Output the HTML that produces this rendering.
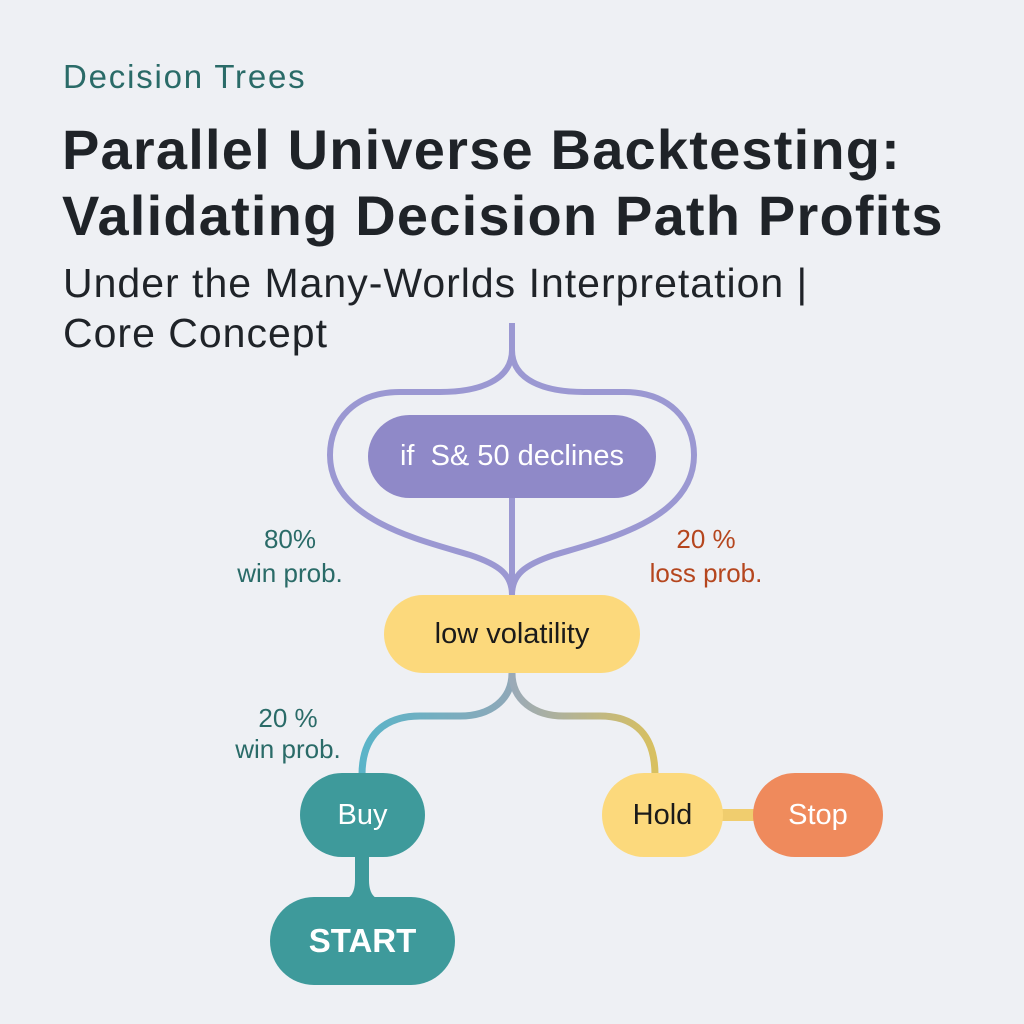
<!DOCTYPE html>
<html><head><style>
body{margin:0;width:1024px;height:1024px;background:#eef0f4;font-family:"Liberation Sans",sans-serif;position:relative;overflow:hidden}
.t{position:absolute;white-space:nowrap}
.n{position:absolute;display:flex;align-items:center;justify-content:center;font-size:29px}
</style></head><body>
<div class="t" style="left:63px;top:58px;font-size:33px;letter-spacing:1.8px;color:#2a6b68">Decision Trees</div>
<div class="t" style="left:62px;top:117px;font-size:56px;font-weight:bold;letter-spacing:1.2px;color:#1f2328;line-height:66px">Parallel Universe Backtesting:<br>Validating Decision Path Profits</div>
<div class="t" style="left:63px;top:258px;font-size:41px;letter-spacing:1px;color:#1f2328;line-height:50px">Under the Many-Worlds Interpretation |<br>Core Concept</div>
<svg width="1024" height="1024" style="position:absolute;left:0;top:0">
<defs>
<linearGradient id="gl" x1="0" x2="1"><stop offset="0" stop-color="#5ab4c8"/><stop offset="1" stop-color="#8fa8b8"/></linearGradient>
<linearGradient id="gr" x1="0" x2="1"><stop offset="0" stop-color="#9aaab8"/><stop offset="1" stop-color="#d8c060"/></linearGradient>
</defs>
<g fill="none" stroke="#9b98d2" stroke-width="6">
<path d="M512 323 V350 C512 380 480 392 440 392 H400 C355 392 330 420 330 455 C330 520 420 540 470 555 C500 565 512 575 512 595"/>
<path d="M512 350 C512 380 544 392 584 392 H624 C669 392 694 420 694 455 C694 520 604 540 554 555 C524 565 512 575 512 595"/>
<path d="M512 498 V595"/>
</g>
<path d="M512 673 C512 700 490 716 460 716 H420 C385 716 362 735 362 775" fill="none" stroke="url(#gl)" stroke-width="7"/>
<path d="M512 673 C512 700 534 716 564 716 H600 C635 716 655 735 655 775" fill="none" stroke="url(#gr)" stroke-width="7"/>
<path d="M340 900 Q355 900 355 880 V850 H369 V880 Q369 900 384 900 Z" fill="#3e9a9b"/>
<path d="M720 815 H760" stroke="#f0cd6e" stroke-width="12"/>
</svg>
<div class="n" style="left:368px;top:415px;width:288px;height:83px;border-radius:42px;background:#8f89c8;color:#fff">if&nbsp; S&amp; 50 declines</div>
<div class="n" style="left:384px;top:595px;width:256px;height:78px;border-radius:39px;background:#fcd97c;color:#1a1a1a">low volatility</div>
<div class="n" style="left:300px;top:773px;width:125px;height:84px;border-radius:42px;background:#3e9a9b;color:#fff">Buy</div>
<div class="n" style="left:602px;top:773px;width:121px;height:84px;border-radius:42px;background:#fcd97c;color:#1a1a1a">Hold</div>
<div class="n" style="left:753px;top:773px;width:130px;height:84px;border-radius:42px;background:#ef8a5c;color:#fff">Stop</div>
<div class="n" style="left:270px;top:897px;width:185px;height:88px;border-radius:44px;background:#3e9a9b;color:#fff;font-size:33px;font-weight:bold">START</div>
<div class="t" style="left:220px;top:522px;width:140px;text-align:center;font-size:26px;color:#2a6b68;line-height:34px">80%<br>win prob.</div>
<div class="t" style="left:636px;top:522px;width:140px;text-align:center;font-size:26px;color:#b5461e;line-height:34px">20 %<br>loss prob.</div>
<div class="t" style="left:218px;top:703px;width:140px;text-align:center;font-size:26px;color:#2a6b68;line-height:31px">20 %<br>win prob.</div>
</body></html>
